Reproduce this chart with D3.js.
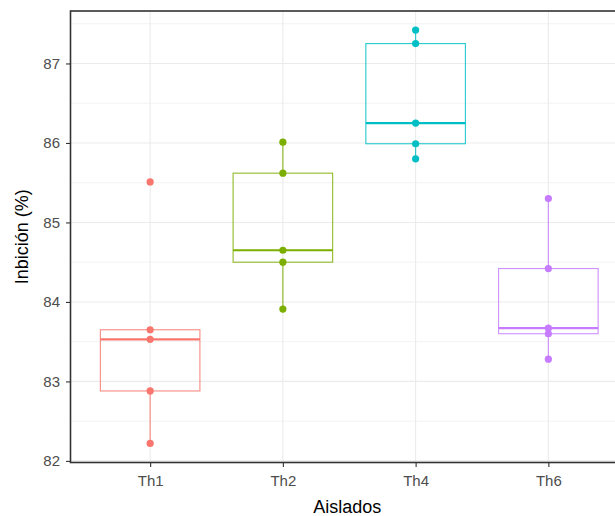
<!DOCTYPE html>
<html>
<head>
<meta charset="utf-8">
<script src="https://cdn.jsdelivr.net/npm/d3@7"></script>
<style>
  body { margin: 0; background: #fff; }
  svg { display: block; font-family: "Liberation Sans", Arial, sans-serif; }
</style>
</head>
<body>
<svg id="chart" width="615" height="516"></svg>
<script>
// Data
const categories = ["Th1", "Th2", "Th4", "Th6"];
const colors = ["#F8766D", "#7CAE00", "#00BFC4", "#C77CFF"];
const valuesTh1 = [82.22, 82.88, 83.53, 83.65, 85.51];
const valuesTh2 = [83.91, 84.50, 84.65, 85.62, 86.01];
const valuesTh4 = [85.80, 85.99, 86.25, 87.25, 87.42];
const valuesTh6 = [83.28, 83.60, 83.67, 84.42, 85.30];
const seriesValues = [valuesTh1, valuesTh2, valuesTh4, valuesTh6];
const yTicks = [82, 83, 84, 85, 86, 87];
const yMinorTicks = [82.5, 83.5, 84.5, 85.5, 86.5, 87.5];
const xTitle = "Aislados";
const yTitle = "Inbición (%)";

const svg = d3.select("#chart");
const panel = { left: 70.5, top: 11, right: 628, bottom: 462.5 };

const xp = d3.scalePoint().domain(categories).range([panel.left, panel.right]).padding(0.6);
const step = xp.step();
const y = d3.scaleLinear().domain([81.98, 87.66]).range([panel.bottom, panel.top]);

const g = svg.append("g");

// grid
g.selectAll(".minor").data(yMinorTicks).enter().append("line")
  .attr("x1", panel.left).attr("x2", panel.right)
  .attr("y1", d => y(d)).attr("y2", d => y(d))
  .attr("stroke", "#EBEBEB").attr("stroke-width", 0.6);
g.selectAll(".major").data(yTicks).enter().append("line")
  .attr("x1", panel.left).attr("x2", panel.right)
  .attr("y1", d => y(d)).attr("y2", d => y(d))
  .attr("stroke", "#EBEBEB").attr("stroke-width", 1.1);
g.selectAll(".vmajor").data(categories).enter().append("line")
  .attr("y1", panel.top).attr("y2", panel.bottom)
  .attr("x1", d => xp(d)).attr("x2", d => xp(d))
  .attr("stroke", "#EBEBEB").attr("stroke-width", 1.1);

// boxplots
function quant(arr, p) { return d3.quantile(arr.slice().sort(d3.ascending), p); }
const boxW = step * 0.75;
categories.forEach((cat, i) => {
  const vals = seriesValues[i].slice().sort(d3.ascending);
  const q1 = quant(vals, 0.25), med = quant(vals, 0.5), q3 = quant(vals, 0.75);
  const iqr = q3 - q1;
  const lo = d3.min(vals.filter(v => v >= q1 - 1.5 * iqr));
  const hi = d3.max(vals.filter(v => v <= q3 + 1.5 * iqr));
  const cx = xp(cat);
  const col = colors[i];
  const bg = g.append("g");
  bg.append("line").attr("x1", cx).attr("x2", cx).attr("y1", y(q3)).attr("y2", y(hi))
    .attr("stroke", col).attr("stroke-width", 1.1).attr("opacity", 0.85);
  bg.append("line").attr("x1", cx).attr("x2", cx).attr("y1", y(q1)).attr("y2", y(lo))
    .attr("stroke", col).attr("stroke-width", 1.1).attr("opacity", 0.85);
  bg.append("rect").attr("x", cx - boxW / 2).attr("width", boxW)
    .attr("y", y(q3)).attr("height", y(q1) - y(q3))
    .attr("fill", "none").attr("stroke", col).attr("stroke-width", 1.1).attr("opacity", 0.85);
  bg.append("line").attr("x1", cx - boxW / 2).attr("x2", cx + boxW / 2)
    .attr("y1", y(med)).attr("y2", y(med))
    .attr("stroke", col).attr("stroke-width", 2.2);
  bg.selectAll("circle").data(vals).enter().append("circle")
    .attr("cx", cx).attr("cy", d => y(d)).attr("r", 3.6).attr("fill", col);
});

// panel border
g.append("rect").attr("x", panel.left).attr("y", panel.top)
  .attr("width", panel.right - panel.left).attr("height", panel.bottom - panel.top)
  .attr("fill", "none").attr("stroke", "#333333").attr("stroke-width", 1.6);

// axes
const yAxis = d3.axisLeft(y).tickValues(yTicks).tickSize(4.5).tickPadding(6).tickFormat(d3.format("d"));
const ya = svg.append("g").attr("transform", `translate(${panel.left},0)`).call(yAxis);
ya.select(".domain").remove();
ya.selectAll(".tick line").attr("stroke", "#333333").attr("stroke-width", 1.1);
ya.selectAll(".tick text").attr("fill", "#4D4D4D").style("font-size", "15px")
  .style("font-family", "'Liberation Sans', Arial, sans-serif");

const xAxis = d3.axisBottom(xp).tickSize(4.5).tickPadding(8);
const xa = svg.append("g").attr("transform", `translate(0,${panel.bottom})`).call(xAxis);
xa.select(".domain").remove();
xa.selectAll(".tick line").attr("stroke", "#333333").attr("stroke-width", 1.1);
xa.selectAll(".tick text").attr("fill", "#4D4D4D").style("font-size", "15px")
  .style("font-family", "'Liberation Sans', Arial, sans-serif");

svg.append("text").attr("x", (panel.left + panel.right) / 2 - 2).attr("y", 513)
  .attr("text-anchor", "middle").attr("fill", "#000").style("font-size", "18px").text(xTitle);
svg.append("text").attr("transform", `translate(28,${(panel.top + panel.bottom) / 2}) rotate(-90)`)
  .attr("text-anchor", "middle").attr("fill", "#000").style("font-size", "18px").text(yTitle);
</script>
</body>
</html>
